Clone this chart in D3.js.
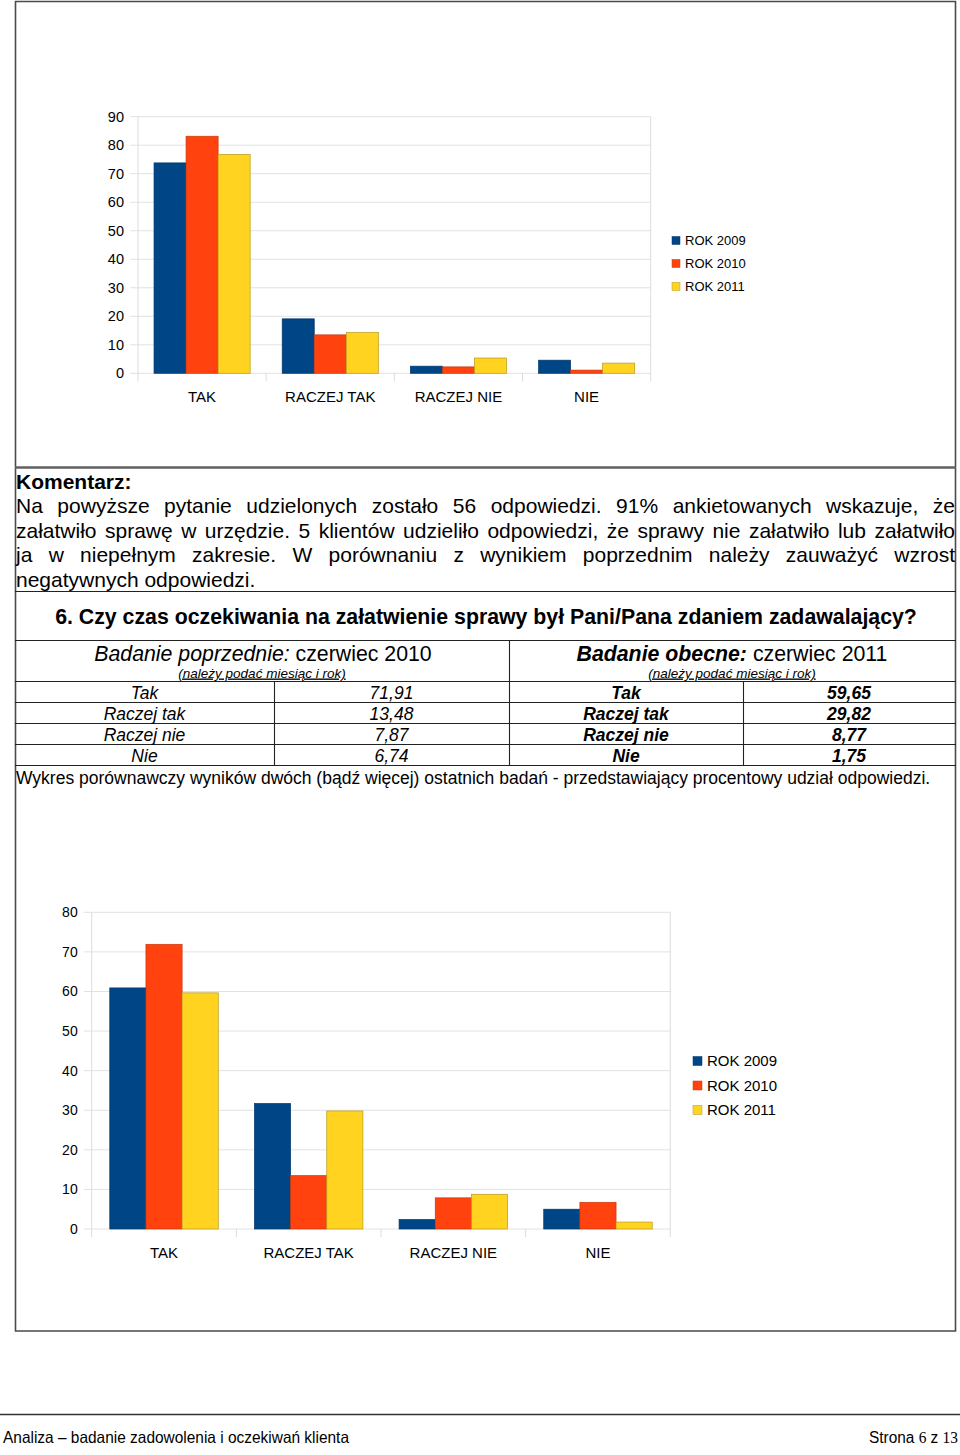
<!DOCTYPE html>
<html>
<head>
<meta charset="utf-8">
<script src="https://cdn.jsdelivr.net/npm/d3@7"></script>
<style>
  body { margin: 0; background: #ffffff; }
  svg { display: block; font-family: "Liberation Sans", Arial, sans-serif; }
  text { white-space: pre; }
</style>
</head>
<body>
<div id="page"></div>
<script>
// Categories and series shared by both charts
const categories = ["TAK", "RACZEJ TAK", "RACZEJ NIE", "NIE"];
const seriesNames = ["ROK 2009", "ROK 2010", "ROK 2011"];
const seriesColors = ["#004586", "#ff420e", "#ffd320"];
const seriesStrokes = ["#00386c", "#c8380c", "#b89a18"];

// Question 5 (top chart), percent
const q5Year2009 = [73.8, 19.1, 2.5, 4.6];
const q5Year2010 = [83.15, 13.48, 2.25, 1.12];
const q5Year2011 = [76.79, 14.29, 5.36, 3.57];
const q5Ticks = [0, 10, 20, 30, 40, 50, 60, 70, 80, 90];

// Question 6 (bottom chart), percent
const q6Year2009 = [60.9, 31.7, 2.4, 5.0];
const q6Year2010 = [71.91, 13.48, 7.87, 6.74];
const q6Year2011 = [59.65, 29.82, 8.77, 1.75];
const q6Ticks = [0, 10, 20, 30, 40, 50, 60, 70, 80];

// Table row labels
const answerLabels = ["Tak", "Raczej tak", "Raczej nie", "Nie"];

const svg = d3.select("#page")
  .append("svg")
  .attr("width", 960)
  .attr("height", 1455);

svg.append("rect").attr("width", 960).attr("height", 1455).attr("fill", "#fff");

// Draws one grouped bar chart with its legend
function drawBarChart(cfg) {
  const g = svg.append("g");

  const x = d3.scaleBand()
    .domain(categories)
    .range([cfg.left, cfg.right])
    .paddingInner(0.25)
    .paddingOuter(0.125);

  const xs = d3.scaleBand()
    .domain(seriesNames)
    .range([0, x.bandwidth()]);

  const y = d3.scaleLinear()
    .domain([0, cfg.max])
    .range([cfg.bottom, cfg.top]);

  // horizontal gridlines (they poke out a little left of the axis)
  g.selectAll(".grid")
    .data(cfg.ticks)
    .join("line")
    .attr("x1", cfg.left - 8)
    .attr("x2", cfg.right)
    .attr("y1", d => y(d))
    .attr("y2", d => y(d))
    .attr("stroke", "#e2e2e2")
    .attr("stroke-width", 1);

  // left and right edges of the plot
  g.selectAll(".side")
    .data([cfg.left, cfg.right])
    .join("line")
    .attr("x1", d => d)
    .attr("x2", d => d)
    .attr("y1", y(cfg.max))
    .attr("y2", cfg.bottom + 8)
    .attr("stroke", "#dcdcdc");

  // category separators below the axis
  g.selectAll(".sep")
    .data(d3.range(1, categories.length))
    .join("line")
    .attr("x1", i => cfg.left + i * x.step())
    .attr("x2", i => cfg.left + i * x.step())
    .attr("y1", cfg.bottom)
    .attr("y2", cfg.bottom + 8)
    .attr("stroke", "#dcdcdc");

  // bars
  const series = cfg.values.map((vals, s) => ({ s: s, name: seriesNames[s], vals: vals }));
  g.selectAll(".series")
    .data(series)
    .join("g")
    .attr("fill", d => seriesColors[d.s])
    .attr("stroke", d => seriesStrokes[d.s])
    .attr("stroke-width", 0.7)
    .selectAll("rect")
    .data(d => d.vals.map((v, i) => ({ cat: categories[i], name: d.name, v: v })))
    .join("rect")
    .attr("x", d => x(d.cat) + xs(d.name))
    .attr("y", d => y(d.v))
    .attr("width", xs.bandwidth())
    .attr("height", d => y(0) - y(d.v));

  // y axis labels
  g.append("g")
    .attr("transform", `translate(${cfg.left},0)`)
    .call(d3.axisLeft(y).tickValues(cfg.ticks).tickSize(0).tickPadding(14))
    .call(a => a.select(".domain").remove())
    .attr("font-family", null)
    .attr("font-size", cfg.yFont)
    .selectAll("text")
    .attr("fill", "#000");

  // x axis labels
  g.append("g")
    .attr("transform", `translate(0,${cfg.bottom})`)
    .call(d3.axisBottom(x).tickSize(0).tickPadding(cfg.xPad))
    .call(a => a.select(".domain").remove())
    .attr("font-family", null)
    .attr("font-size", cfg.xFont)
    .selectAll("text")
    .attr("fill", "#000");

  // legend
  const legend = g.selectAll(".legend")
    .data(seriesNames)
    .join("g")
    .attr("transform", (d, i) => `translate(${cfg.legendX},${cfg.legendY + i * cfg.legendStep})`);
  legend.append("rect")
    .attr("x", 0)
    .attr("y", -cfg.legendBox / 2)
    .attr("width", cfg.legendBox)
    .attr("height", cfg.legendBox)
    .attr("fill", (d, i) => seriesColors[i])
    .attr("stroke", (d, i) => seriesStrokes[i])
    .attr("stroke-width", 0.5);
  legend.append("text")
    .attr("x", cfg.legendBox + 5)
    .attr("dy", "0.35em")
    .attr("font-size", cfg.legendFont)
    .text(d => d);
}

drawBarChart({
  values: [q5Year2009, q5Year2010, q5Year2011],
  max: 90, ticks: q5Ticks,
  left: 138, right: 650.7, top: 116.7, bottom: 373.3,
  yFont: 14.5, xFont: 15, xPad: 18.5,
  legendX: 672, legendY: 240.5, legendStep: 23, legendBox: 8, legendFont: 13
});

drawBarChart({
  values: [q6Year2009, q6Year2010, q6Year2011],
  max: 80, ticks: q6Ticks,
  left: 91.7, right: 670.3, top: 912.3, bottom: 1229,
  yFont: 14, xFont: 15, xPad: 18.5,
  legendX: 693, legendY: 1061, legendStep: 24.5, legendBox: 9, legendFont: 15
});

// Page frame and table rules
const frame = svg.append("g").attr("fill", "none");
frame.append("path")
  .attr("d", "M15.5,1.5 H955.5 V1331 H15.5 Z")
  .attr("stroke", "#4a4a4a")
  .attr("stroke-width", 1.6);
frame.append("line")
  .attr("x1", 15).attr("x2", 956).attr("y1", 467.5).attr("y2", 467.5)
  .attr("stroke", "#606060").attr("stroke-width", 2.4);

const ruleYs = [591, 640, 681, 702, 723, 744, 765];
frame.selectAll(".rule")
  .data(ruleYs)
  .join("line")
  .attr("x1", 15).attr("x2", 956)
  .attr("y1", d => d + 0.5).attr("y2", d => d + 0.5)
  .attr("stroke", "#222").attr("stroke-width", 1.1);

frame.append("line").attr("x1", 509.5).attr("x2", 509.5).attr("y1", 640).attr("y2", 765.5)
  .attr("stroke", "#222").attr("stroke-width", 1.1);
frame.selectAll(".col")
  .data([274.5, 743.5])
  .join("line")
  .attr("x1", d => d).attr("x2", d => d).attr("y1", 681).attr("y2", 765.5)
  .attr("stroke", "#222").attr("stroke-width", 1.1);

// Comment block
const commentLines = [
  "Na powyższe pytanie udzielonych zostało 56 odpowiedzi. 91% ankietowanych wskazuje, że",
  "załatwiło sprawę w urzędzie. 5 klientów udzieliło odpowiedzi, że sprawy nie załatwiło lub załatwiło",
  "ja w niepełnym zakresie. W porównaniu z wynikiem poprzednim należy zauważyć wzrost",
  "negatywnych odpowiedzi."
];

svg.append("text")
  .attr("x", 16).attr("y", 488.7)
  .attr("font-size", 21).attr("font-weight", "bold")
  .text("Komentarz:");

// justified lines: spread the spare width over the word gaps
const lineWidth = 939;
svg.selectAll(".comment")
  .data(commentLines)
  .join("text")
  .attr("x", 16)
  .attr("y", (d, i) => 513.3 + i * 24.5)
  .attr("font-size", 21)
  .text(d => d)
  .each(function (d, i) {
    if (i === commentLines.length - 1) return;
    const gaps = d.split(" ").length - 1;
    const spare = lineWidth - this.getComputedTextLength();
    d3.select(this).attr("word-spacing", spare / gaps);
  });

// Question heading
svg.append("text")
  .attr("x", 486).attr("y", 624)
  .attr("text-anchor", "middle")
  .attr("font-size", 21.3).attr("font-weight", "bold")
  .text("6. Czy czas oczekiwania na załatwienie sprawy był Pani/Pana zdaniem zadawalający?");

// Table header
const hdrPrev = svg.append("text").attr("x", 263).attr("y", 661)
  .attr("text-anchor", "middle").attr("font-size", 21.3);
hdrPrev.append("tspan").attr("font-style", "italic").text("Badanie poprzednie:");
hdrPrev.append("tspan").text(" czerwiec 2010");

const hdrCurr = svg.append("text").attr("x", 732).attr("y", 661)
  .attr("text-anchor", "middle").attr("font-size", 21.3);
hdrCurr.append("tspan").attr("font-style", "italic").attr("font-weight", "bold").text("Badanie obecne:");
hdrCurr.append("tspan").text(" czerwiec 2011");

svg.selectAll(".hint")
  .data([262, 732])
  .join("text")
  .attr("x", d => d).attr("y", 677.5)
  .attr("text-anchor", "middle")
  .attr("font-size", 13.5).attr("font-style", "italic")
  .attr("text-decoration", "underline")
  .text("(należy podać miesiąc i rok)");

// Table rows: previous survey = 2010, current = 2011
const fmt = v => v.toFixed(2).replace(".", ",");
const rowY = i => 699 + i * 21;

svg.selectAll(".prevLabel").data(answerLabels).join("text")
  .attr("x", 144.5).attr("y", (d, i) => rowY(i))
  .attr("text-anchor", "middle").attr("font-size", 17.5).attr("font-style", "italic")
  .text(d => d);
svg.selectAll(".prevVal").data(q6Year2010).join("text")
  .attr("x", 391.5).attr("y", (d, i) => rowY(i))
  .attr("text-anchor", "middle").attr("font-size", 17.5).attr("font-style", "italic")
  .text(d => fmt(d));
svg.selectAll(".currLabel").data(answerLabels).join("text")
  .attr("x", 626).attr("y", (d, i) => rowY(i))
  .attr("text-anchor", "middle").attr("font-size", 17.5)
  .attr("font-style", "italic").attr("font-weight", "bold")
  .text(d => d);
svg.selectAll(".currVal").data(q6Year2011).join("text")
  .attr("x", 849).attr("y", (d, i) => rowY(i))
  .attr("text-anchor", "middle").attr("font-size", 17.5)
  .attr("font-style", "italic").attr("font-weight", "bold")
  .text(d => fmt(d));

svg.append("text")
  .attr("x", 16).attr("y", 784.3)
  .attr("font-size", 17.5)
  .text("Wykres porównawczy wyników dwóch (bądź więcej) ostatnich badań - przedstawiający procentowy udział odpowiedzi.");

// Footer
svg.append("line")
  .attr("x1", 0).attr("x2", 960).attr("y1", 1414.5).attr("y2", 1414.5)
  .attr("stroke", "#333").attr("stroke-width", 1.5);

svg.append("text")
  .attr("x", 3).attr("y", 1443)
  .attr("font-family", "'Liberation Sans Narrow', 'Arial Narrow', 'Liberation Sans', sans-serif")
  .attr("font-size", 16.5)
  .attr("textLength", 346).attr("lengthAdjust", "spacingAndGlyphs")
  .text("Analiza – badanie zadowolenia i oczekiwań klienta");

const pageNo = svg.append("text")
  .attr("x", 958).attr("y", 1443)
  .attr("text-anchor", "end")
  .attr("font-family", "'Liberation Sans Narrow', 'Arial Narrow', 'Liberation Sans', sans-serif")
  .attr("font-size", 16)
  .attr("textLength", 89).attr("lengthAdjust", "spacingAndGlyphs");
pageNo.append("tspan").text("Strona ");
pageNo.append("tspan").attr("font-family", "'Liberation Serif', serif").text("6");
pageNo.append("tspan").text(" z ");
pageNo.append("tspan").attr("font-family", "'Liberation Serif', serif").text("13");
</script>
</body>
</html>
